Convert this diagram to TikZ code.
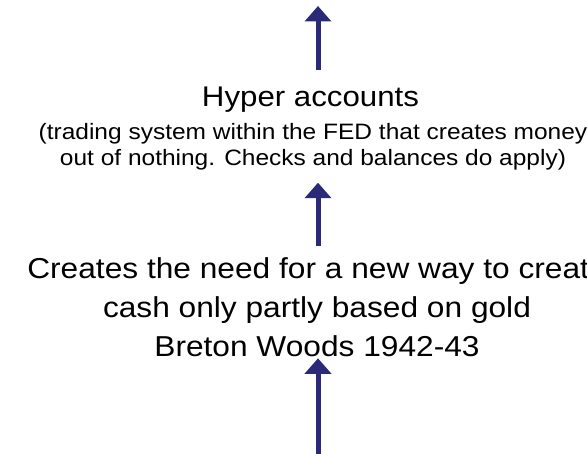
\documentclass[tikz,border=0pt]{standalone}
\usepackage{fontspec}
\setmainfont{Liberation Sans}
\usepackage{tikz}
\usetikzlibrary{arrows.meta}
\definecolor{arrowblue}{RGB}{42,42,120}
\tikzset{
  uparrow/.style={draw=arrowblue,line width=3.75pt,-{Triangle[width=19.5pt,length=11.6pt]}},
  txt/.style={align=center,inner sep=0pt,xscale=1.1,anchor=base},
}

\begin{document}
\begin{tikzpicture}[x=0.75pt,y=-0.75pt]
      \useasboundingbox (0,0) rectangle (587,454);
      \clip (0,0) rectangle (587,454);
      \node[txt,font=\fontsize{21.3}{25}\selectfont] (hyper) at (310.5,106.7) {Hyper accounts};
      \node[txt,font=\fontsize{16.7}{19.5}\selectfont] (fed) at (313,165.5) {(trading system within the FED that creates money\\out of nothing. Checks and balances do apply)};
      \node[txt,font=\fontsize{21.6}{28.9}\selectfont] (breton) at (317,356) {Creates the need for a new way to create\\cash only partly based on gold\\Breton Woods 1942-43};

      \coordinate (t1) at (318,6);
      \coordinate (b1) at (318,70);
      \coordinate (t2) at (318,182.7);
      \coordinate (b2) at (318,246);
      \coordinate (t3) at (318,358.3);
      \coordinate (b3) at (318,460);

      \draw[uparrow] (b1) -- (t1);
      \draw[uparrow] (b2) -- (t2);
      \draw[uparrow] (b3) -- (t3);
    \end{tikzpicture}
\end{document}
